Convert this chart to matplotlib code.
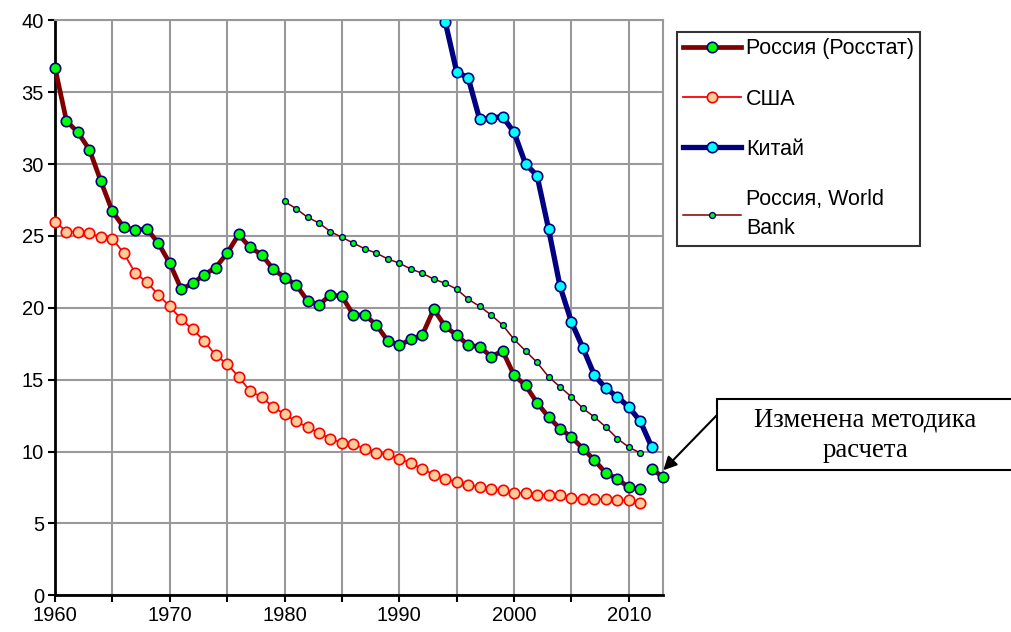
import matplotlib
matplotlib.use("Agg")
import matplotlib.pyplot as plt
from matplotlib.patches import Rectangle
import numpy as np

plt.rcParams['font.family'] = ['Liberation Sans', 'DejaVu Sans']

# ---- data ----
years_rosstat = list(range(1960, 2012))
rosstat = [36.7, 33.0, 32.2, 31.0, 28.8, 26.7, 25.6, 25.4, 25.5, 24.5,
           23.1, 21.3, 21.7, 22.3, 22.8, 23.8, 25.1, 24.2, 23.7, 22.7,
           22.1, 21.6, 20.5, 20.2, 20.9, 20.8, 19.5, 19.5, 18.8, 17.7,
           17.4, 17.8, 18.1, 19.9, 18.7, 18.1, 17.4, 17.3, 16.6, 17.0,
           15.3, 14.6, 13.4, 12.4, 11.6, 11.0, 10.2, 9.4, 8.5, 8.1,
           7.5, 7.4]
years_rosstat_new = [2012, 2013]
rosstat_new = [8.8, 8.2]

years_usa = list(range(1960, 2012))
usa = [26.0, 25.3, 25.3, 25.2, 24.9, 24.8, 23.8, 22.4, 21.8, 20.9,
       20.1, 19.2, 18.5, 17.7, 16.7, 16.1, 15.2, 14.2, 13.8, 13.1,
       12.6, 12.1, 11.7, 11.3, 10.9, 10.6, 10.5, 10.2, 9.9, 9.8,
       9.5, 9.2, 8.8, 8.4, 8.1, 7.9, 7.7, 7.5, 7.4, 7.3,
       7.1, 7.1, 7.0, 7.0, 7.0, 6.8, 6.7, 6.7, 6.7, 6.6,
       6.6, 6.4]

years_china = list(range(1991, 2013))
china = [50.2, 46.7, 43.6, 39.9, 36.4, 36.0, 33.1, 33.2, 33.3, 32.2,
         30.0, 29.2, 25.5, 21.5, 19.0, 17.2, 15.3, 14.4, 13.8, 13.1,
         12.1, 10.3]

years_wb = list(range(1980, 2012))
wb = [27.4, 26.9, 26.3, 25.9, 25.3, 24.9, 24.5, 24.1, 23.8, 23.4,
      23.1, 22.7, 22.4, 22.0, 21.7, 21.3, 20.6, 20.1, 19.5, 18.8,
      17.8, 17.0, 16.2, 15.2, 14.5, 13.8, 13.0, 12.4, 11.7, 10.9,
      10.3, 9.9]

labels = ['Россия (Росстат)', 'США', 'Китай', 'Россия, World\nBank']
annotation_text = 'Изменена методика\nрасчета'

# ---- figure ----
W, H = 1011, 632
fig = plt.figure(figsize=(W / 100, H / 100), dpi=100)
ax = fig.add_axes([55 / W, 1 - 595.3 / H, (663.3 - 55) / W, (595.3 - 20.3) / H])

dark_red = '#800000'
navy = '#000080'

l1, = ax.plot(years_rosstat, rosstat, color=dark_red, lw=3.4, marker='o', ms=7.5,
              mfc='#00FF00', mec=navy, mew=1.2, clip_on=False, zorder=4)
ax.plot(years_rosstat_new, rosstat_new, color=dark_red, lw=3.4, marker='o', ms=7.5,
        mfc='#00FF00', mec=navy, mew=1.2, clip_on=False, zorder=4)
l2, = ax.plot(years_usa, usa, color='#FF0000', lw=1.3, marker='o', ms=7.5,
              mfc='#FFCC99', mec='#FF0000', mew=1.2, clip_on=False, zorder=3)
l3, = ax.plot(years_china, china, color=navy, lw=3.8, marker='o', ms=7.5,
              mfc='#00FFFF', mec=navy, mew=1.2, zorder=4)
l4, = ax.plot(years_wb, wb, color=dark_red, lw=1.1, marker='o', ms=4.2,
              mfc='#00FF00', mec=navy, mew=1.0, zorder=3)

ax.set_xlim(1960, 2013)
ax.set_ylim(0, 40)
ax.set_xticks(range(1960, 2011, 10))
ax.set_xticks(range(1965, 2011, 10), minor=True)
ax.set_yticks(range(0, 41, 5))
ax.grid(True, which='both', color='#999999', lw=1.5)
ax.set_axisbelow(True)
ax.tick_params(axis='both', which='both', direction='out', length=5, width=1.5,
               color='black', labelsize=14.5, pad=3)
for s in ['left', 'bottom']:
    ax.spines[s].set_color('black')
    ax.spines[s].set_linewidth(2)
for s in ['top', 'right']:
    ax.spines[s].set_color('#999999')
    ax.spines[s].set_linewidth(1.5)

leg = fig.legend([l1, l2, l3, l4], labels, loc='upper left',
                 bbox_to_anchor=(677 / W, 1 - 32 / H), fontsize=15.5,
                 frameon=True, fancybox=False, edgecolor='black',
                 handlelength=2.65, handletextpad=0.25, labelspacing=1.35,
                 borderpad=0.3, borderaxespad=0)
leg.get_frame().set_linewidth(1.5)
for t in leg.get_texts():
    t.set_linespacing(1.55)

# annotation box
fig.patches.append(Rectangle((717 / W, 1 - 470 / H), 300 / W, 71 / H,
                             transform=fig.transFigure, fill=True,
                             facecolor='white', edgecolor='black', lw=1.5,
                             zorder=5))
fig.text(865 / W, 1 - 435 / H, annotation_text, ha='center', va='center',
         family=['Liberation Serif', 'DejaVu Serif'], fontsize=19.3,
         linespacing=1.3, zorder=6)
ax.annotate('', xy=(2013, 8.7), xycoords='data',
            xytext=(717, H - 415), textcoords='figure pixels',
            arrowprops=dict(arrowstyle='-|>', color='black', lw=1.5,
                            mutation_scale=20, shrinkA=0, shrinkB=0),
            annotation_clip=False, zorder=6)

fig.savefig('out.png', dpi=100)
